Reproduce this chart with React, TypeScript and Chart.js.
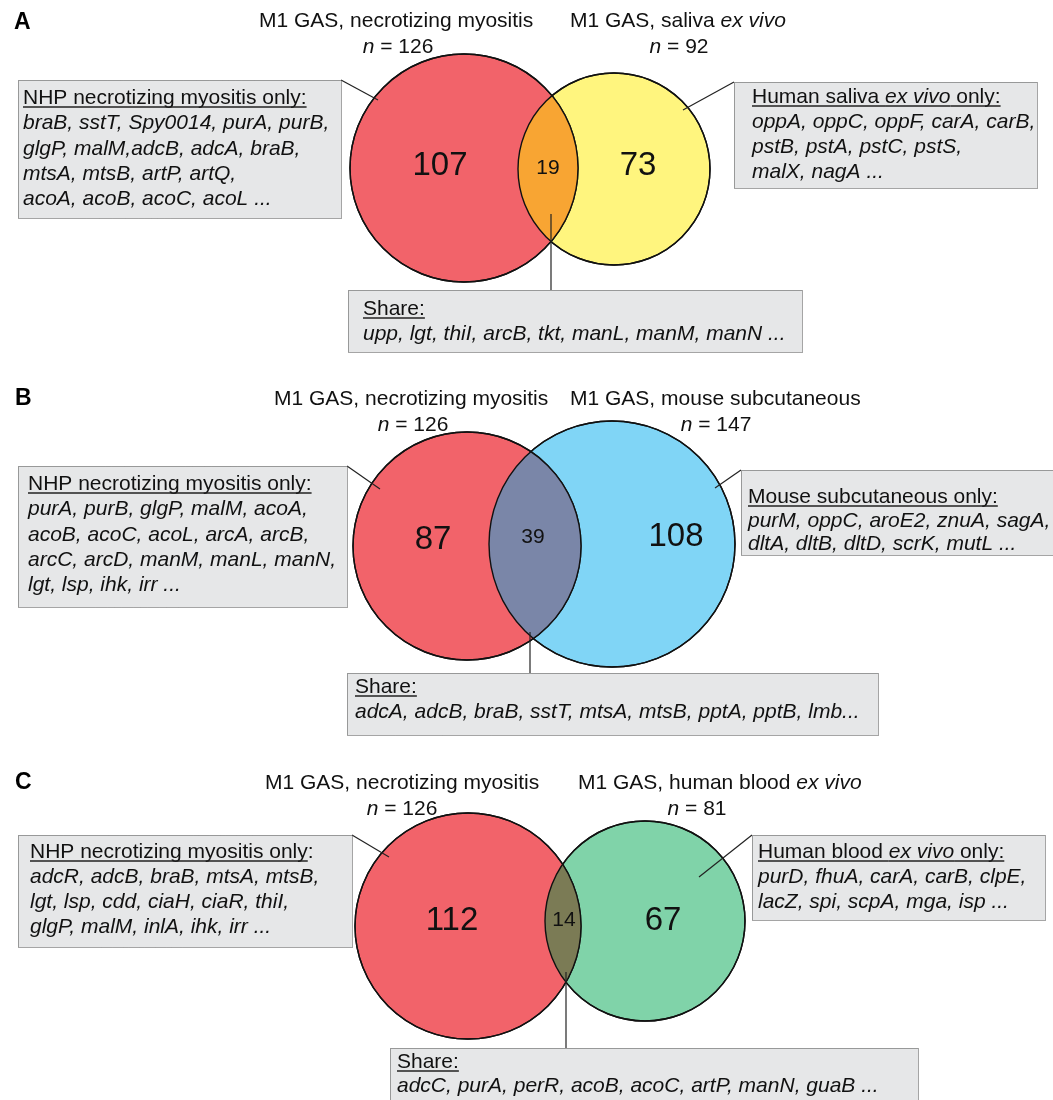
import React, { useEffect, useRef } from "react";
import { Chart, registerables } from "chart.js";
Chart.register(...registerables);

// ---------- DATA ----------
const PANEL_LETTERS = ["A", "B", "C"];
const LEFT_TITLES = ["M1 GAS, necrotizing myositis", "M1 GAS, necrotizing myositis", "M1 GAS, necrotizing myositis"];
const RIGHT_TITLES = ["M1 GAS, saliva *ex vivo*", "M1 GAS, mouse subcutaneous", "M1 GAS, human blood *ex vivo*"];
const LEFT_N = [126, 126, 126];
const RIGHT_N = [92, 147, 81];
const LEFT_ONLY = [107, 87, 112];
const SHARED = [19, 39, 14];
const RIGHT_ONLY = [73, 108, 67];

const LEFT_BOX_TITLES = ["_NHP necrotizing myositis only:_", "_NHP necrotizing myositis only:_", "_NHP necrotizing myositis only_:"];
const RIGHT_BOX_TITLES = ["_Human saliva *ex vivo* only:_", "_Mouse subcutaneous only:_", "_Human blood *ex vivo* only:_"];
const SHARE_TITLE = "_Share:_";

const LEFT_GENES_A = ["braB, sstT, Spy0014, purA, purB,", "glgP, malM,adcB, adcA, braB,", "mtsA, mtsB, artP, artQ,", "acoA, acoB, acoC, acoL ..."];
const RIGHT_GENES_A = ["oppA, oppC, oppF, carA, carB,", "pstB, pstA, pstC, pstS,", "malX, nagA ..."];
const SHARE_GENES_A = ["upp, lgt, thiI, arcB, tkt, manL, manM, manN ..."];

const LEFT_GENES_B = ["purA, purB, glgP, malM, acoA,", "acoB, acoC, acoL, arcA, arcB,", "arcC, arcD, manM, manL, manN,", "lgt, lsp, ihk, irr ..."];
const RIGHT_GENES_B = ["purM, oppC, aroE2, znuA, sagA,", "dltA, dltB, dltD, scrK, mutL ..."];
const SHARE_GENES_B = ["adcA, adcB, braB, sstT, mtsA, mtsB, pptA, pptB, lmb..."];

const LEFT_GENES_C = ["adcR, adcB, braB, mtsA, mtsB,", "lgt, lsp, cdd, ciaH, ciaR, thiI,", "glgP, malM, inlA, ihk, irr ..."];
const RIGHT_GENES_C = ["purD, fhuA, carA, carB, clpE,", "lacZ, spi, scpA, mga, isp ..."];
const SHARE_GENES_C = ["adcC, purA, perR, acoB, acoC, artP, manN, guaB ..."];

const LEFT_GENES = [LEFT_GENES_A, LEFT_GENES_B, LEFT_GENES_C];
const RIGHT_GENES = [RIGHT_GENES_A, RIGHT_GENES_B, RIGHT_GENES_C];
const SHARE_GENES = [SHARE_GENES_A, SHARE_GENES_B, SHARE_GENES_C];

// ---------- LAYOUT / STYLE ----------
const W = 1053;
const H = 1100;
const FONT = '"Liberation Sans", Arial, Helvetica, sans-serif';
const RED = "#F2636A";
const RIGHT_COLORS = ["#FFF57E", "#80D5F6", "#80D3A9"];
const LENS_COLORS = ["#F8A533", "#7A86A8", "#7B7B55"];
const BOX_FILL = "#E6E7E8";

type Box = { x: number; y: number; w: number; h: number; tx: number; ty: number; lh: number };
const LAYOUT = [
  {
    letter: [14, 29],
    circL: [464, 168, 114], circR: [614, 169, 96],
    titleL: [259, 27], nL: [398, 53], titleR: [570, 27], nR: [679, 53],
    numL: [440, 166], numS: [548, 168], numR: [638, 166],
    boxL: { x: 18, y: 80, w: 323, h: 138, tx: 23, ty: 104, lh: 25.3 },
    boxR: { x: 734, y: 82, w: 303, h: 106, tx: 752, ty: 103, lh: 25 },
    boxS: { x: 348, y: 290, w: 454, h: 62, tx: 363, ty: 315, lh: 25 },
    lineL: [341, 80, 378, 100], lineR: [734, 82, 683, 110], lineS: [551, 290, 551, 214],
  },
  {
    letter: [15, 405],
    circL: [467, 546, 114], circR: [612, 544, 123],
    titleL: [274, 405], nL: [413, 431], titleR: [570, 405], nR: [716, 431],
    numL: [433, 540], numS: [533, 537], numR: [676, 537],
    boxL: { x: 18, y: 466, w: 329, h: 141, tx: 28, ty: 490, lh: 25.3 },
    boxR: { x: 741, y: 470, w: 330, h: 85, tx: 748, ty: 503, lh: 23.5 },
    boxS: { x: 347, y: 673, w: 531, h: 62, tx: 355, ty: 693, lh: 25 },
    lineL: [347, 466, 380, 489], lineR: [741, 470, 715, 488], lineS: [530, 673, 530, 632],
  },
  {
    letter: [15, 789],
    circL: [468, 926, 113], circR: [645, 921, 100],
    titleL: [265, 789], nL: [402, 815], titleR: [578, 789], nR: [697, 815],
    numL: [452, 921], numS: [564, 920], numR: [663, 921],
    boxL: { x: 18, y: 835, w: 334, h: 112, tx: 30, ty: 858, lh: 25 },
    boxR: { x: 752, y: 835, w: 293, h: 85, tx: 758, ty: 858, lh: 25 },
    boxS: { x: 390, y: 1048, w: 528, h: 60, tx: 397, ty: 1068, lh: 24 },
    lineL: [352, 835, 389, 857], lineR: [752, 835, 699, 877], lineS: [566, 1048, 566, 972],
  },
];

const TEXT_SIZE = 21;
const BIG_NUM = 33;
const LENS_NUM = 21;

// ---------- DRAW HELPERS ----------
type Seg = { t: string; it: boolean; ul: boolean };
function parse(s: string, baseItalic: boolean): Seg[] {
  const segs: Seg[] = [];
  let it = baseItalic, ul = false, cur = "";
  for (const ch of s) {
    if (ch === "*" || ch === "_") {
      if (cur) segs.push({ t: cur, it, ul });
      cur = "";
      if (ch === "*") it = !it; else ul = !ul;
    } else cur += ch;
  }
  if (cur) segs.push({ t: cur, it, ul });
  return segs;
}
function fontFor(it: boolean, size: number, bold = false) {
  return `${it ? "italic " : ""}${bold ? "bold " : ""}${size}px ${FONT}`;
}
function richWidth(ctx: CanvasRenderingContext2D, segs: Seg[], size: number) {
  let w = 0;
  for (const s of segs) { ctx.font = fontFor(s.it, size); w += ctx.measureText(s.t).width; }
  return w;
}
function drawRich(ctx: CanvasRenderingContext2D, str: string, x: number, y: number, size: number, baseItalic = false, center = false) {
  const segs = parse(str, baseItalic);
  let cx = center ? x - richWidth(ctx, segs, size) / 2 : x;
  ctx.textBaseline = "alphabetic";
  ctx.textAlign = "left";
  ctx.fillStyle = "#111";
  for (const s of segs) {
    ctx.font = fontFor(s.it, size);
    const w = ctx.measureText(s.t).width;
    ctx.fillText(s.t, cx, y);
    if (s.ul) {
      ctx.save();
      ctx.strokeStyle = "#222";
      ctx.lineWidth = 1.3;
      ctx.beginPath();
      ctx.moveTo(cx, y + 3);
      ctx.lineTo(cx + w, y + 3);
      ctx.stroke();
      ctx.restore();
    }
    cx += w;
  }
}

const vennPlugin = {
  id: "vennPlugin",
  afterDatasetsDraw(chart: any) {
    const ctx: CanvasRenderingContext2D = chart.ctx;
    const sx = chart.scales.x, sy = chart.scales.y;
    const px = (v: number) => sx.getPixelForValue(v);
    const py = (v: number) => sy.getPixelForValue(v);
    const pr = (r: number) => Math.abs(sx.getPixelForValue(r) - sx.getPixelForValue(0));

    const box = (b: Box, title: string, lines: string[]) => {
      const x = Math.round(px(b.x)), y = Math.round(py(b.y));
      const w = Math.round(px(b.x + b.w)) - x, h = Math.round(py(b.y + b.h)) - y;
      ctx.save();
      ctx.fillStyle = BOX_FILL;
      ctx.fillRect(x, y, w, h);
      ctx.strokeStyle = "#4a4a4a";
      ctx.lineWidth = 1;
      ctx.setLineDash([1, 1]);
      ctx.strokeRect(x + 0.5, y + 0.5, w, h);
      ctx.restore();
      drawRich(ctx, title, px(b.tx), py(b.ty), TEXT_SIZE, false);
      lines.forEach((ln, i) => drawRich(ctx, ln, px(b.tx), py(b.ty + b.lh * (i + 1)), TEXT_SIZE, true));
    };
    const line = (l: number[]) => {
      ctx.save();
      ctx.strokeStyle = "#222";
      ctx.lineWidth = 1.2;
      ctx.beginPath();
      ctx.moveTo(px(l[0]), py(l[1]));
      ctx.lineTo(px(l[2]), py(l[3]));
      ctx.stroke();
      ctx.restore();
    };
    const circlePath = (c: number[]) => {
      ctx.beginPath();
      ctx.arc(px(c[0]), py(c[1]), pr(c[2]), 0, Math.PI * 2);
    };

    LAYOUT.forEach((L, i) => {
      // lens
      ctx.save();
      circlePath(L.circL);
      ctx.clip();
      circlePath(L.circR);
      ctx.fillStyle = LENS_COLORS[i];
      ctx.fill();
      ctx.restore();
      // outlines
      ctx.save();
      ctx.strokeStyle = "#111";
      ctx.lineWidth = 1.4;
      circlePath(L.circL); ctx.stroke();
      circlePath(L.circR); ctx.stroke();
      ctx.restore();
      // connectors
      line(L.lineL); line(L.lineR); line(L.lineS);
      // boxes
      box(L.boxL, LEFT_BOX_TITLES[i], LEFT_GENES[i]);
      box(L.boxR, RIGHT_BOX_TITLES[i], RIGHT_GENES[i]);
      box(L.boxS, SHARE_TITLE, SHARE_GENES[i]);
      // numbers
      ctx.save();
      ctx.fillStyle = "#111";
      ctx.textAlign = "center";
      ctx.textBaseline = "middle";
      ctx.font = fontFor(false, BIG_NUM);
      ctx.fillText(String(LEFT_ONLY[i]), px(L.numL[0]), py(L.numL[1]));
      ctx.fillText(String(RIGHT_ONLY[i]), px(L.numR[0]), py(L.numR[1]));
      ctx.font = fontFor(false, LENS_NUM);
      ctx.fillText(String(SHARED[i]), px(L.numS[0]), py(L.numS[1]));
      ctx.restore();
      // titles
      drawRich(ctx, LEFT_TITLES[i], px(L.titleL[0]), py(L.titleL[1]), TEXT_SIZE);
      drawRich(ctx, RIGHT_TITLES[i], px(L.titleR[0]), py(L.titleR[1]), TEXT_SIZE);
      drawRich(ctx, `*n* = ${LEFT_N[i]}`, px(L.nL[0]), py(L.nL[1]), TEXT_SIZE, false, true);
      drawRich(ctx, `*n* = ${RIGHT_N[i]}`, px(L.nR[0]), py(L.nR[1]), TEXT_SIZE, false, true);
      // panel letter
      ctx.save();
      ctx.fillStyle = "#000";
      ctx.textAlign = "left";
      ctx.textBaseline = "alphabetic";
      ctx.font = fontFor(false, 23, true);
      ctx.fillText(PANEL_LETTERS[i], px(L.letter[0]), py(L.letter[1]));
      ctx.restore();
    });
  },
};

export default function App() {
  const ref = useRef<HTMLCanvasElement | null>(null);
  useEffect(() => {
    if (!ref.current) return;
    const datasets: any[] = [];
    LAYOUT.forEach((L, i) => {
      [[L.circL, RED], [L.circR, RIGHT_COLORS[i]]].forEach(([c, col]: any) => {
        const rad = (ctx: any) => {
          const sx = ctx.chart.scales.x;
          return Math.abs(sx.getPixelForValue(c[2]) - sx.getPixelForValue(0));
        };
        datasets.push({
          type: "scatter",
          data: [{ x: c[0], y: c[1] }],
          backgroundColor: col,
          borderColor: "#111",
          borderWidth: 1.4,
          pointRadius: rad,
          pointHoverRadius: rad,
        });
      });
    });
    const chart = new Chart(ref.current, {
      type: "scatter",
      data: { datasets },
      options: {
        animation: false,
        responsive: false,
        events: [],
        devicePixelRatio: 1,
        layout: { padding: 0 },
        plugins: { legend: { display: false }, tooltip: { enabled: false } },
        scales: {
          x: { type: "linear", min: 0, max: W, display: false },
          y: { type: "linear", min: 0, max: H, reverse: true, display: false },
        },
        clip: false as any,
      },
      plugins: [vennPlugin],
    });
    return () => chart.destroy();
  }, []);
  return (
    <div style={{ position: "absolute", left: 0, top: 0, width: W, height: H, background: "#fff" }}>
      <canvas ref={ref} width={W} height={H} style={{ width: W, height: H, display: "block" }} />
    </div>
  );
}
